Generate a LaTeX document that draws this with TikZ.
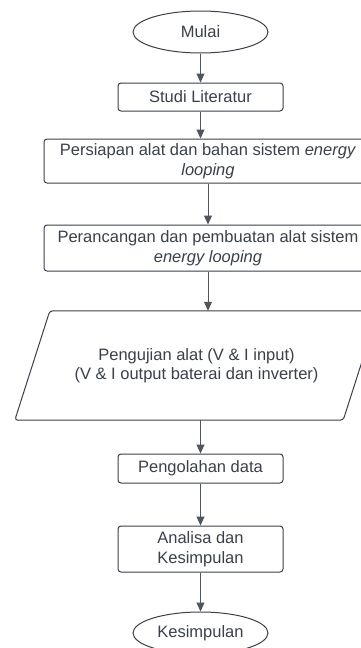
\documentclass[tikz,border=0pt]{standalone}
\usepackage{fontspec}
\setmainfont{Liberation Sans}
\usetikzlibrary{shapes.geometric,arrows.meta}
\definecolor{ink}{HTML}{3A414A}
\definecolor{wire}{HTML}{50565E}
\begin{document}
\begin{tikzpicture}[x=1pt,y=-1pt,
  every node/.style={font=\fontsize{16.5}{19.5}\selectfont, text=ink, inner sep=0pt},
  term/.style={ellipse, draw=ink, line width=1pt, minimum width=135pt, minimum height=42pt},
  proc/.style={rectangle, rounded corners=3pt, draw=ink, line width=1pt, align=center},
  io/.style={rectangle, align=center},
  outline/.style={draw=ink, line width=1pt, rounded corners=3pt},
  flow/.style={draw=wire, line width=1pt, -{Triangle[length=9pt,width=8pt]}}]
\useasboundingbox (0,0) rectangle (361,648);
\fill[white] (0,0) rectangle (361,648);
\node[term] (mulai) at (200.5,32) {Mulai};
\node[proc, minimum width=165pt, minimum height=28pt] (studi) at (200.5,97) {Studi Literatur};
\node[proc, minimum width=328pt, minimum height=44pt] (persiapan) at (208,161)
  {Persiapan alat dan bahan sistem \textit{energy}\\\textit{looping}};
\node[proc, minimum width=328pt, minimum height=46pt] (perancangan) at (208,248)
  {Perancangan dan pembuatan alat sistem\\\textit{energy looping}};
\node[io, minimum width=363pt, minimum height=109pt] (uji) at (196.5,365.5)
  {Pengujian alat (V \& I input)\\(V \& I output baterai dan inverter)};
\draw[outline] (uji.south west) -- ([xshift=35pt]uji.north west) -- (uji.north east)
  -- ([xshift=-35pt]uji.south east) -- cycle;
\node[proc, minimum width=165pt, minimum height=29pt] (olah) at (200.5,468.5) {Pengolahan data};
\node[proc, minimum width=165pt, minimum height=46pt] (analisa) at (200.5,549) {Analisa dan\\Kesimpulan};
\node[term] (simpul) at (200.5,633) {Kesimpulan};
\draw[flow] (mulai) -- (studi);
\draw[flow] (studi.south) -- (studi.south |- persiapan.north);
\draw[flow] (persiapan) -- (perancangan);
\draw[flow] (perancangan.south) -- (perancangan.south |- uji.north);
\draw[flow] (uji.south -| olah.north) -- (olah.north);
\draw[flow] (olah) -- (analisa);
\draw[flow] (analisa) -- (simpul);
\end{tikzpicture}
\end{document}
